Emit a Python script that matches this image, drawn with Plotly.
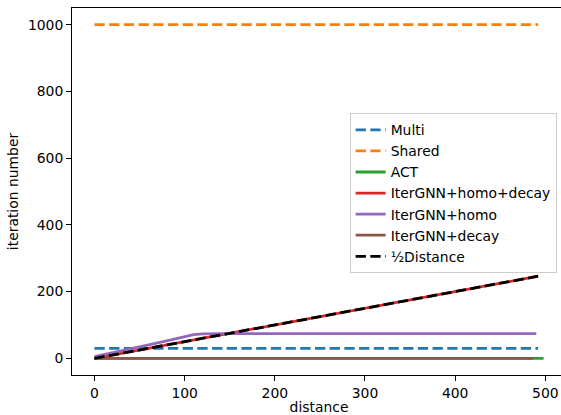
import plotly.graph_objects as go

# ---- data ----
multi_x = [0, 492]
multi_y = [30, 30]

shared_x = [0, 492]
shared_y = [1000, 1000]

act_x = [0, 498]
act_y = [0, 0]

homo_decay_x = [0, 100, 200, 300, 400, 492]
homo_decay_y = [0, 50, 100, 150, 200, 246]

homo_x = [0, 20, 40, 60, 80, 100, 110, 120, 140, 490]
homo_y = [5, 16, 28, 40, 52, 65, 71, 73, 74, 74]

decay_x = [0, 486]
decay_y = [0, 0]

half_x = [0, 100, 200, 300, 400, 492]
half_y = [0, 50, 100, 150, 200, 246]

x_ticks = [0, 100, 200, 300, 400, 500]
y_ticks = [0, 200, 400, 600, 800, 1000]

LW = 2.8
DASH = "10.3px,4.4px"
FONT = dict(family="DejaVu Sans", size=13.9, color="black")

fig = go.Figure()
fig.add_trace(go.Scatter(x=multi_x, y=multi_y, mode="lines", name="Multi",
                         line=dict(color="#1f77b4", width=LW, dash=DASH)))
fig.add_trace(go.Scatter(x=shared_x, y=shared_y, mode="lines", name="Shared",
                         line=dict(color="#ff7f0e", width=LW, dash=DASH)))
fig.add_trace(go.Scatter(x=act_x, y=act_y, mode="lines", name="ACT",
                         line=dict(color="#2ca02c", width=LW)))
fig.add_trace(go.Scatter(x=homo_decay_x, y=homo_decay_y, mode="lines", name="IterGNN+homo+decay",
                         line=dict(color="#d62728", width=LW)))
fig.add_trace(go.Scatter(x=homo_x, y=homo_y, mode="lines", name="IterGNN+homo",
                         line=dict(color="#9467bd", width=LW)))
fig.add_trace(go.Scatter(x=decay_x, y=decay_y, mode="lines", name="IterGNN+decay",
                         line=dict(color="#8c564b", width=LW)))
fig.add_trace(go.Scatter(x=half_x, y=half_y, mode="lines", name="½Distance",
                         line=dict(color="black", width=LW, dash=DASH)))

axis_common = dict(showgrid=False, zeroline=False, showline=True, linecolor="black",
                   linewidth=1.1, ticks="outside", ticklen=4.9, tickwidth=1.1,
                   tickcolor="black", tickfont=FONT, title_font=FONT)

fig.update_layout(
    width=566, height=415,
    margin=dict(l=72, r=0, t=8, b=40),
    paper_bgcolor="white", plot_bgcolor="white",
    font=FONT,
    showlegend=True,
    legend=dict(x=0.562, y=0.713, xanchor="left", yanchor="top",
                bgcolor="rgba(255,255,255,0.8)", bordercolor="#cccccc", borderwidth=1,
                tracegroupgap=0, font=FONT),
    xaxis=dict(range=[-24.9, 522.9], tickvals=x_ticks, title=dict(text="distance", standoff=2),
               mirror=True, **axis_common),
    yaxis=dict(range=[-50, 1050], tickvals=y_ticks, title=dict(text="iteration number", standoff=6),
               **axis_common),
)

fig.write_html("out.html", config={"displayModeBar": False},
               post_script="document.body.style.margin='0';document.body.style.overflow='hidden';")
